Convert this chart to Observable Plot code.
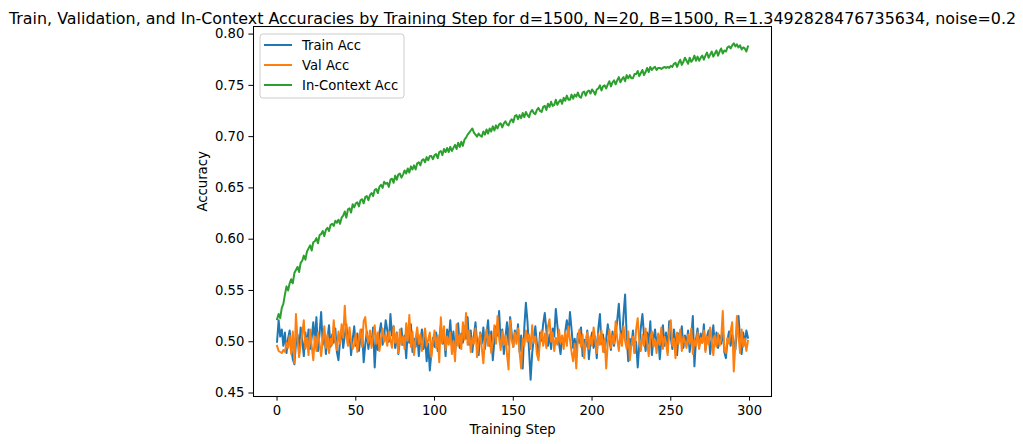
<!DOCTYPE html>
<html>
<head>
<meta charset="utf-8">
<script src="https://cdn.jsdelivr.net/npm/d3@7"></script>
<script src="https://cdn.jsdelivr.net/npm/@observablehq/plot@0.6"></script>
<style>
  html, body { margin: 0; padding: 0; background: #fff; }
  #chart { width: 1023px; height: 444px; }
  svg { font-family: "DejaVu Sans", sans-serif; }
</style>
</head>
<body>
<div id="chart"></div>
<script>
// Accuracy per training step (steps 0..299)
const trainAcc = [
  0.500, 0.521, 0.505, 0.512, 0.496, 0.509, 0.489, 0.503, 0.511, 0.494,
  0.483, 0.478, 0.498, 0.507, 0.492, 0.514, 0.501, 0.486, 0.509, 0.497,
  0.512, 0.493, 0.504, 0.519, 0.500, 0.524, 0.491, 0.508, 0.529, 0.497,
  0.510, 0.488, 0.503, 0.516, 0.495, 0.507, 0.499, 0.513, 0.490, 0.482,
  0.501, 0.512, 0.494, 0.506, 0.517, 0.498, 0.509, 0.487, 0.502, 0.515,
  0.496, 0.508, 0.491, 0.504, 0.512, 0.480, 0.497, 0.510, 0.493, 0.506,
  0.499, 0.514, 0.475, 0.503, 0.492, 0.509, 0.518, 0.497, 0.505, 0.521,
  0.511, 0.500, 0.527, 0.506, 0.515, 0.494, 0.509, 0.488, 0.502, 0.513,
  0.497, 0.506, 0.484, 0.510, 0.499, 0.517, 0.490, 0.503, 0.495, 0.508,
  0.486, 0.501, 0.512, 0.493, 0.505, 0.481, 0.498, 0.472, 0.489, 0.504,
  0.495, 0.509, 0.491, 0.503, 0.516, 0.498, 0.507, 0.486, 0.512, 0.501,
  0.521, 0.496, 0.510, 0.489, 0.505, 0.518, 0.494, 0.508, 0.499, 0.515,
  0.503, 0.524, 0.497, 0.511, 0.490, 0.506, 0.519, 0.500, 0.487, 0.509,
  0.498, 0.514, 0.493, 0.507, 0.521, 0.496, 0.510, 0.482, 0.501, 0.515,
  0.506, 0.530, 0.499, 0.512, 0.488, 0.504, 0.519, 0.497, 0.524, 0.508,
  0.495, 0.511, 0.501, 0.517, 0.490, 0.506, 0.474, 0.514, 0.538, 0.520,
  0.492, 0.463, 0.489, 0.503, 0.515, 0.498, 0.486, 0.509, 0.501, 0.518,
  0.528, 0.511, 0.496, 0.507, 0.493, 0.513, 0.505, 0.532, 0.516, 0.499,
  0.488, 0.504, 0.497, 0.510, 0.521, 0.506, 0.529, 0.512, 0.494, 0.503,
  0.491, 0.508, 0.499, 0.514, 0.486, 0.502, 0.495, 0.511, 0.483, 0.500,
  0.509, 0.494, 0.505, 0.484, 0.513, 0.527, 0.498, 0.507, 0.490, 0.503,
  0.517, 0.501, 0.492, 0.510, 0.496, 0.508, 0.521, 0.537, 0.512, 0.499,
  0.526, 0.546, 0.505, 0.481, 0.503, 0.496, 0.511, 0.489, 0.500, 0.475,
  0.497, 0.514, 0.527, 0.506, 0.491, 0.509, 0.498, 0.520, 0.487, 0.503,
  0.512, 0.495, 0.507, 0.483, 0.501, 0.516, 0.496, 0.509, 0.490, 0.520,
  0.504, 0.493, 0.512, 0.499, 0.487, 0.508, 0.501, 0.515, 0.494, 0.506,
  0.498, 0.511, 0.490, 0.504, 0.525, 0.476, 0.502, 0.513, 0.495, 0.508,
  0.499, 0.517, 0.492, 0.505, 0.511, 0.488, 0.503, 0.516, 0.497, 0.509,
  0.494, 0.506, 0.498, 0.513, 0.490, 0.484, 0.502, 0.510, 0.496, 0.507,
  0.500, 0.492, 0.512, 0.525, 0.503, 0.488, 0.509, 0.497, 0.511, 0.504
];

const valAcc = [
  0.496, 0.491, 0.490, 0.489, 0.492, 0.490, 0.499, 0.494, 0.506, 0.488,
  0.510, 0.479, 0.527, 0.502, 0.485, 0.497, 0.508, 0.521, 0.493, 0.504,
  0.487, 0.512, 0.496, 0.482, 0.505, 0.491, 0.509, 0.498, 0.486, 0.501,
  0.515, 0.494, 0.507, 0.489, 0.503, 0.497, 0.521, 0.500, 0.492, 0.510,
  0.498, 0.517, 0.504, 0.535, 0.509, 0.496, 0.514, 0.501, 0.493, 0.497,
  0.508, 0.490, 0.503, 0.512, 0.495, 0.520, 0.524, 0.507, 0.499, 0.511,
  0.494, 0.505, 0.516, 0.498, 0.509, 0.491, 0.503, 0.513, 0.500, 0.507,
  0.496, 0.510, 0.502, 0.494, 0.515, 0.499, 0.508, 0.489, 0.512, 0.497,
  0.505, 0.493, 0.518, 0.501, 0.526, 0.495, 0.510, 0.487, 0.503, 0.514,
  0.498, 0.507, 0.491, 0.504, 0.513, 0.496, 0.502, 0.509, 0.485, 0.500,
  0.511, 0.494, 0.506, 0.480, 0.524, 0.499, 0.515, 0.492, 0.505, 0.497,
  0.509, 0.488, 0.501, 0.481, 0.517, 0.496, 0.507, 0.493, 0.519, 0.502,
  0.528, 0.497, 0.511, 0.490, 0.504, 0.498, 0.513, 0.485, 0.500, 0.508,
  0.494, 0.479, 0.503, 0.512, 0.496, 0.507, 0.489, 0.501, 0.516, 0.498,
  0.525, 0.504, 0.492, 0.510, 0.497, 0.506, 0.488, 0.473, 0.521, 0.502,
  0.495, 0.509, 0.498, 0.513, 0.490, 0.474, 0.503, 0.496, 0.511, 0.500,
  0.507, 0.493, 0.516, 0.499, 0.505, 0.488, 0.482, 0.502, 0.511, 0.496,
  0.508, 0.494, 0.515, 0.522, 0.500, 0.509, 0.491, 0.504, 0.497, 0.512,
  0.499, 0.506, 0.493, 0.510, 0.496, 0.515, 0.502, 0.490, 0.481, 0.498,
  0.474, 0.503, 0.512, 0.495, 0.507, 0.484, 0.500, 0.509, 0.493, 0.505,
  0.496, 0.514, 0.502, 0.489, 0.508, 0.497, 0.511, 0.490, 0.503, 0.474,
  0.499, 0.512, 0.494, 0.506, 0.498, 0.520, 0.503, 0.491, 0.508, 0.496,
  0.515, 0.501, 0.493, 0.510, 0.482, 0.497, 0.505, 0.489, 0.512, 0.523,
  0.500, 0.491, 0.507, 0.496, 0.513, 0.499, 0.486, 0.504, 0.510, 0.495,
  0.502, 0.489, 0.508, 0.497, 0.514, 0.493, 0.505, 0.499, 0.487, 0.510,
  0.521, 0.496, 0.503, 0.484, 0.509, 0.498, 0.512, 0.491, 0.505, 0.500,
  0.494, 0.507, 0.498, 0.513, 0.488, 0.502, 0.496, 0.509, 0.493, 0.504,
  0.499, 0.511, 0.490, 0.505, 0.497, 0.514, 0.501, 0.487, 0.506, 0.495,
  0.508, 0.496, 0.503, 0.530, 0.492, 0.489, 0.504, 0.498, 0.510, 0.519,
  0.471, 0.497, 0.525, 0.506, 0.489, 0.512, 0.495, 0.503, 0.491, 0.501
];

const inContextAcc = [
  0.522, 0.527, 0.523, 0.533, 0.537, 0.546, 0.554, 0.550, 0.557, 0.561,
  0.557, 0.567, 0.570, 0.573, 0.568, 0.577, 0.579, 0.584, 0.580, 0.588,
  0.591, 0.594, 0.589, 0.597, 0.598, 0.601, 0.596, 0.604, 0.605, 0.608,
  0.603, 0.609, 0.611, 0.608, 0.614, 0.615, 0.613, 0.618, 0.616, 0.619,
  0.615, 0.621, 0.623, 0.627, 0.621, 0.629, 0.630, 0.626, 0.634, 0.631,
  0.635, 0.636, 0.632, 0.638, 0.639, 0.635, 0.641, 0.642, 0.638, 0.643,
  0.645, 0.642, 0.648, 0.649, 0.645, 0.651, 0.653, 0.650, 0.656, 0.654,
  0.655, 0.651, 0.658, 0.659, 0.655, 0.662, 0.658, 0.663, 0.664, 0.660,
  0.663, 0.667, 0.664, 0.669, 0.665, 0.671, 0.668, 0.672, 0.668, 0.674,
  0.675, 0.672, 0.677, 0.678, 0.675, 0.680, 0.677, 0.681, 0.681, 0.678,
  0.682, 0.683, 0.679, 0.685, 0.686, 0.682, 0.688, 0.685, 0.689, 0.685,
  0.690, 0.686, 0.689, 0.692, 0.688, 0.694, 0.690, 0.695, 0.691, 0.697,
  0.699, 0.702, 0.704, 0.706, 0.708, 0.704, 0.702, 0.700, 0.703, 0.701,
  0.700, 0.705, 0.702, 0.707, 0.703, 0.708, 0.705, 0.710, 0.706, 0.711,
  0.708, 0.712, 0.713, 0.709, 0.713, 0.715, 0.712, 0.711, 0.715, 0.717,
  0.714, 0.720, 0.721, 0.717, 0.721, 0.718, 0.723, 0.719, 0.724, 0.721,
  0.719, 0.724, 0.726, 0.723, 0.722, 0.726, 0.728, 0.725, 0.724, 0.729,
  0.730, 0.726, 0.732, 0.729, 0.734, 0.730, 0.731, 0.736, 0.731, 0.734,
  0.736, 0.732, 0.738, 0.735, 0.740, 0.736, 0.736, 0.741, 0.737, 0.741,
  0.739, 0.743, 0.739, 0.738, 0.743, 0.744, 0.740, 0.744, 0.745, 0.742,
  0.746, 0.744, 0.741, 0.746, 0.747, 0.750, 0.745, 0.749, 0.750, 0.747,
  0.751, 0.754, 0.749, 0.753, 0.755, 0.751, 0.755, 0.758, 0.753, 0.756,
  0.758, 0.754, 0.760, 0.757, 0.760, 0.757, 0.757, 0.761, 0.761, 0.764,
  0.759, 0.762, 0.765, 0.760, 0.763, 0.767, 0.763, 0.768, 0.765, 0.767,
  0.768, 0.765, 0.767, 0.767, 0.766, 0.767, 0.768, 0.767, 0.768, 0.767,
  0.769, 0.768, 0.771, 0.772, 0.768, 0.772, 0.775, 0.770, 0.773, 0.777,
  0.774, 0.771, 0.777, 0.773, 0.775, 0.779, 0.774, 0.778, 0.774, 0.777,
  0.779, 0.775, 0.779, 0.782, 0.777, 0.780, 0.783, 0.778, 0.781, 0.784,
  0.779, 0.783, 0.786, 0.781, 0.784, 0.783, 0.787, 0.788, 0.786, 0.789,
  0.791, 0.788, 0.790, 0.787, 0.789, 0.785, 0.787, 0.786, 0.783, 0.788
];

const seriesNames = ["Train Acc", "Val Acc", "In-Context Acc"];
const seriesColors = ["#1f77b4", "#ff7f0e", "#2ca02c"];
const xTicks = [0, 50, 100, 150, 200, 250, 300];
const yTicks = [0.45, 0.50, 0.55, 0.60, 0.65, 0.70, 0.75, 0.80];
const titleText = "Train, Validation, and In-Context Accuracies by Training Step for d=1500, N=20, B=1500, R=1.3492828476735634, noise=0.2";

// long-format table built from the series arrays
const seriesValues = [trainAcc, valAcc, inContextAcc];
const rows = seriesValues.flatMap((vals, s) =>
  vals.map((v, i) => ({ step: i, acc: v, series: seriesNames[s] }))
);

// matplotlib-style 5% padding around the data range
const allVals = seriesValues.flat();
const yMin = d3.min(allVals), yMax = d3.max(allVals);
const yPad = (yMax - yMin) * 0.05;
const xPad = (trainAcc.length - 1) * 0.05;

const FS = 13.2;

const chart = Plot.plot({
  width: 1023,
  height: 444,
  marginLeft: 253,
  marginRight: 252,
  marginTop: 26,
  marginBottom: 48,
  style: { fontFamily: "DejaVu Sans, sans-serif", fontSize: FS + "px", color: "#000", background: "#fff", overflow: "visible" },
  x: { domain: [-xPad, trainAcc.length - 1 + xPad] },
  y: { domain: [yMin - yPad, yMax + yPad] },
  color: { domain: seriesNames, range: seriesColors },
  marks: [
    Plot.axisX({ ticks: xTicks, tickSize: 4.6, tickPadding: 4.6, tickFormat: d => String(d), label: null, fontSize: FS }),
    Plot.axisY({ ticks: yTicks, tickSize: 4.6, tickPadding: 4.6, tickFormat: d3.format(".2f"), label: null, fontSize: FS }),
    Plot.line(rows, { x: "step", y: "acc", z: "series", stroke: "series", strokeWidth: 2, strokeLinejoin: "round", strokeLinecap: "square" }),
    Plot.frame({ stroke: "#000", strokeWidth: 1.05 }),
    Plot.text([titleText], { frameAnchor: "top", dy: -14, fontSize: 15.9, text: d => d }),
    Plot.text(["Training Step"], { frameAnchor: "bottom", dy: 37, fontSize: FS, text: d => d }),
    Plot.text(["Accuracy"], { frameAnchor: "left", dx: -51, rotate: -90, fontSize: FS, text: d => d })
  ]
});

document.getElementById("chart").appendChild(chart);

// legend in the upper-left corner of the axes
const svg = d3.select(chart);
const lg = svg.append("g")
  .attr("transform", "translate(260,34)")
  .attr("font-family", "DejaVu Sans, sans-serif")
  .attr("font-size", FS)
  .attr("text-anchor", "start");
lg.append("rect")
  .attr("x", 0).attr("y", 0).attr("width", 144).attr("height", 64).attr("rx", 2.8)
  .attr("fill", "#fff").attr("fill-opacity", 0.8).attr("stroke", "#cccccc").attr("stroke-width", 1);
seriesNames.forEach((name, i) => {
  const cy = 11 + i * 20;
  lg.append("line").attr("x1", 4).attr("x2", 32).attr("y1", cy).attr("y2", cy)
    .attr("stroke", seriesColors[i]).attr("stroke-width", 2);
  lg.append("text").attr("x", 42).attr("y", cy).attr("dy", "0.35em")
    .attr("fill", "#000").attr("text-anchor", "start").text(name);
});
</script>
</body>
</html>
